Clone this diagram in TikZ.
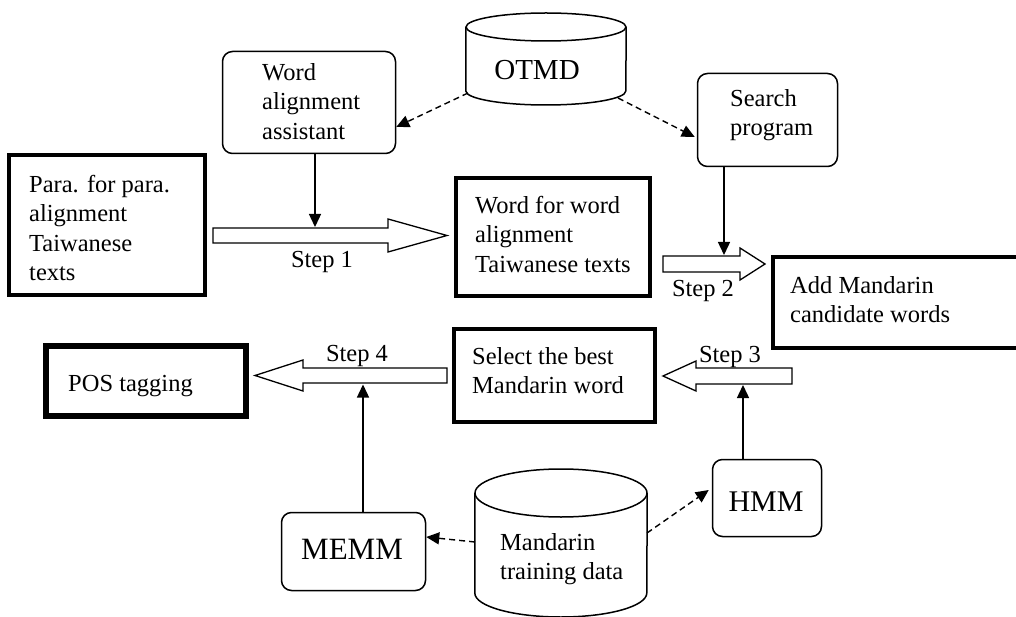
\documentclass[tikz,border=0pt]{standalone}
\usepackage{fontspec}
\setmainfont{Liberation Serif}
\usetikzlibrary{arrows.meta,calc}
\begin{document}
\begin{tikzpicture}[x=1pt,y=-1pt,
  txt/.style={font=\fontsize{24.5}{29.5}\selectfont, inner sep=0pt, align=left, anchor=north west},
  lbl/.style={font=\fontsize{24.5}{29.5}\selectfont, inner sep=0pt, anchor=base},
  big/.style={font=\fontsize{29}{34}\selectfont, inner sep=0pt, anchor=base},
  rbox/.style={draw, line width=1.5pt, rounded corners=10pt, inner sep=0pt},
  tbox/.style={draw, line width=4pt, inner sep=0pt},
  cyl/.style={line width=1.5pt},
  blockarrow/.style={draw, line width=1.3pt, fill=white, line join=miter},
  conn/.style={line width=1.4pt, -{Triangle[length=13pt,width=12pt]}},
  dconn/.style={conn, dash pattern=on 6pt off 4pt},
]
\useasboundingbox (0,0) rectangle (1016,617);
\clip (0,0) rectangle (1016,617);

% rectangular boxes
\node[tbox, minimum width=196pt, minimum height=140pt] (para) at (107,225) {};
\node[tbox, minimum width=194pt, minimum height=118pt] (wfw) at (553,237) {};
\node[tbox, minimum width=257pt, minimum height=91pt] (add) at (901.5,302.5) {};
\node[tbox, line width=5.5pt, minimum width=200pt, minimum height=70pt] (pos) at (146,381) {};
\node[tbox, minimum width=201pt, minimum height=93pt] (select) at (554.5,375.5) {};

% rounded boxes
\node[rbox, minimum width=173pt, minimum height=102pt] (assistant) at (309,102.5) {};
\node[rbox, minimum width=140pt, minimum height=93pt] (search) at (767.5,120) {};
\node[rbox, minimum width=144pt, minimum height=78pt] (memm) at (353.5,551.5) {};
\node[rbox, minimum width=109pt, minimum height=77pt] (hmm) at (767,498) {};

% cylinders
\node[minimum width=160pt, minimum height=92pt, inner sep=0pt] (otmd) at (546,59) {};
\draw[cyl] (otmd.west |- 0,27) -- (otmd.west |- 0,91)
  arc[start angle=180, end angle=360, x radius=80pt, y radius=14pt] -- (otmd.east |- 0,27);
\draw[cyl] (546,27) ellipse [x radius=80pt, y radius=14pt];
\coordinate (otmdL) at (468,93);
\coordinate (otmdR) at (618,98);

\node[minimum width=172pt, minimum height=148pt, inner sep=0pt] (mtd) at (561,543) {};
\draw[cyl] (mtd.west |- 0,493) -- (mtd.west |- 0,593)
  arc[start angle=180, end angle=360, x radius=86pt, y radius=24pt] -- (mtd.east |- 0,493);
\draw[cyl] (561,493) ellipse [x radius=86pt, y radius=24pt];
\coordinate (mtdL) at (475,542);
\coordinate (mtdR) at (647,533);

% texts
\node[txt] (paraT) at (29,175) {Para. for para.\\alignment\\Taiwanese\\texts};
\node[txt] (assistantT) at (262,63) {Word\\alignment\\assistant};
\node[txt] (searchT) at (730,89) {Search\\program};
\node[txt] (wfwT) at (475,196) {Word for word\\alignment\\Taiwanese texts};
\node[txt] (addT) at (790,276) {Add Mandarin\\candidate words};
\node[txt] (posT) at (68,375) {POS tagging};
\node[txt] (selectT) at (472,347) {Select the best\\Mandarin word};
\node[txt] (mtdT) at (500,533) {Mandarin\\training data};
\node[big] (otmdT) at (537,80) {OTMD};
\node[big, font=\fontsize{31}{36}\selectfont] (memmT) at (352,559) {MEMM};
\node[big, font=\fontsize{30}{35}\selectfont] (hmmT) at (766,511) {HMM};

% block arrows
\draw[blockarrow] (213,228) -- (388,228) -- (388,219) -- (447,235.5) -- (388,252) -- (388,243) -- (213,243) -- cycle;
\coordinate (s1top) at (315,228);
\draw[blockarrow] (663,256) -- (740,256) -- (740,248) -- (765,264) -- (740,280) -- (740,272) -- (663,272) -- cycle;
\coordinate (s2top) at (724,256);
\draw[blockarrow] (792,368) -- (696,368) -- (696,361) -- (663,376) -- (696,391) -- (696,384) -- (792,384) -- cycle;
\coordinate (s3bot) at (743,384);
\draw[blockarrow] (447,368) -- (303,368) -- (303,360) -- (255,375.5) -- (303,391) -- (303,383) -- (447,383) -- cycle;
\coordinate (s4bot) at (363,383);

\node[lbl] (step1) at (322,268) {Step 1};
\node[lbl] (step2) at (703,296) {Step 2};
\node[lbl] (step3) at (730,362) {Step 3};
\node[lbl] (step4) at (357,361) {Step 4};

% solid connectors
\draw[conn] (assistant.south -| s1top) -- ([yshift=1pt]s1top);
\draw[conn] (search.south -| s2top) -- ([yshift=1pt]s2top);
\draw[conn] (memm.north -| s4bot) -- ([yshift=-1.5pt]s4bot);
\draw[conn] (hmm.north -| s3bot) -- ([yshift=-1pt]s3bot);

% dashed connectors
\draw[dconn] (otmdL) -- ([yshift=-24.5pt]assistant.east);
\draw[dconn] (otmdR) -- ([xshift=-2pt,yshift=-17pt]search.west);
\draw[dconn] (mtdL) -- ([yshift=14.5pt]memm.east);
\draw[dconn] (mtdR) -- ([xshift=-3pt,yshift=8pt]hmm.west);
\end{tikzpicture}
\end{document}
